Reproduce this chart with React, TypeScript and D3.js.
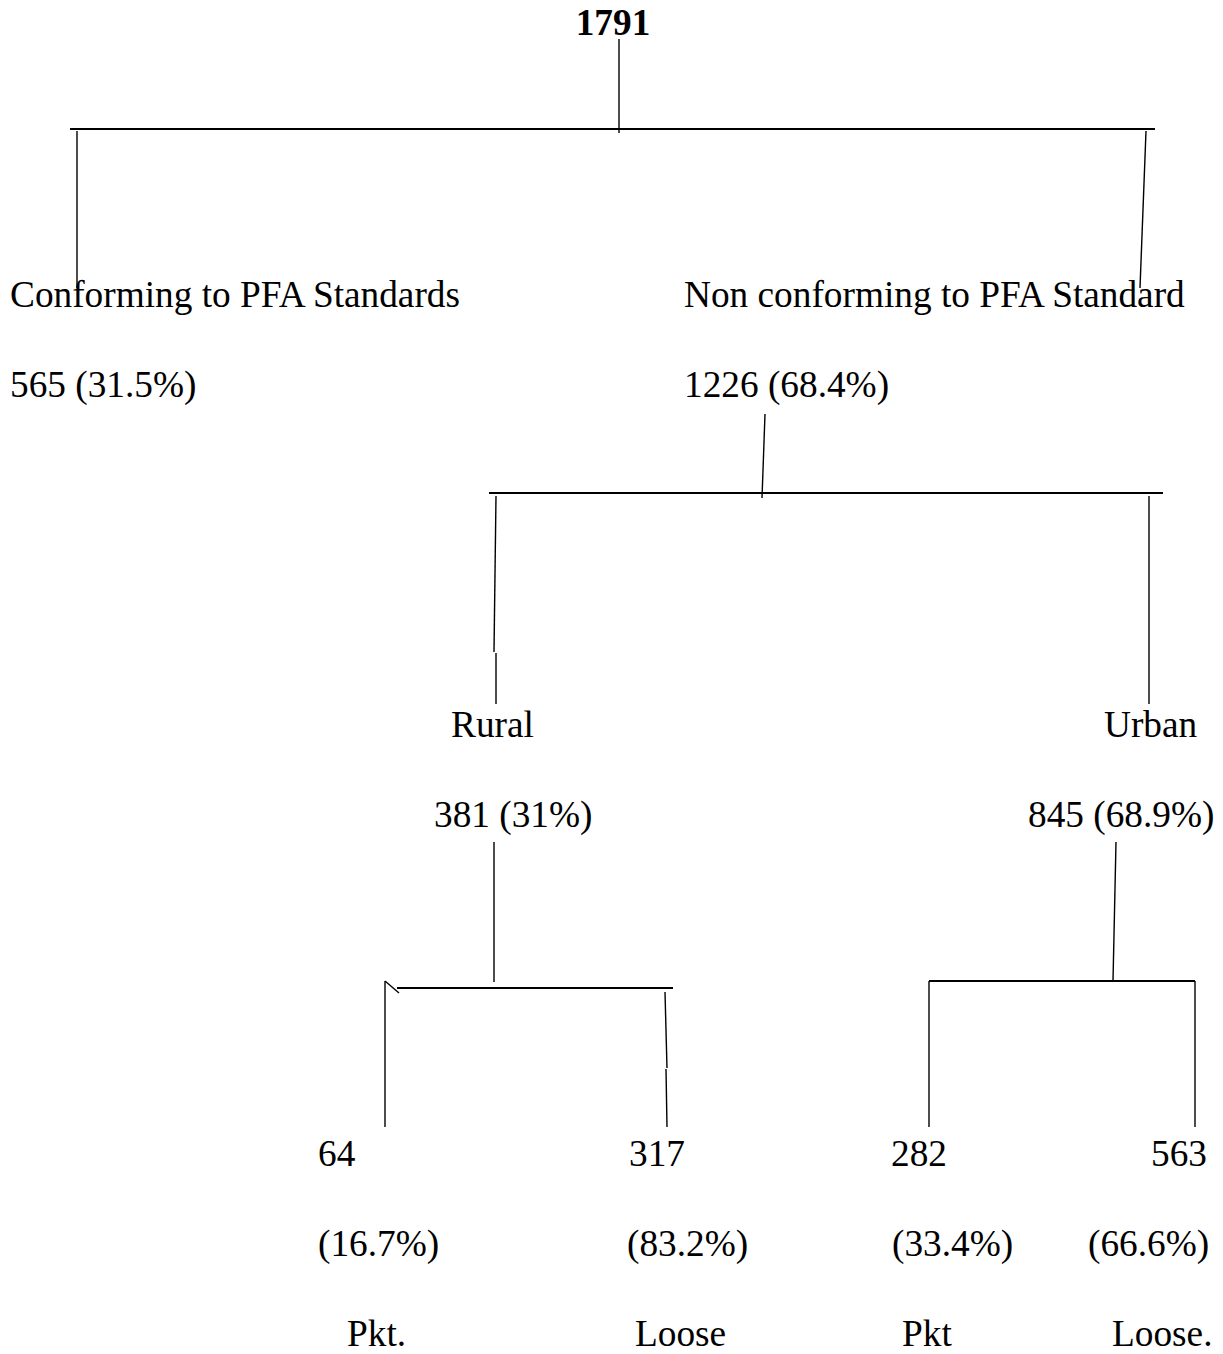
import React, { useEffect, useRef } from 'react';
import * as d3 from 'd3';

// sample tree: ids, parents, texts and values
const nodeIds = ['root', 'conf', 'nonconf', 'rural', 'urban', 'ruralPkt', 'ruralLoose', 'urbanPkt', 'urbanLoose'];
const parentIds = ['', 'root', 'root', 'nonconf', 'nonconf', 'rural', 'rural', 'urban', 'urban'];
const nodeLabels = ['', 'Conforming to PFA Standards', 'Non conforming to PFA Standard', 'Rural', 'Urban', 'Pkt.', 'Loose', 'Pkt', 'Loose.'];
const nodeCounts = [1791, 565, 1226, 381, 845, 64, 317, 282, 563];
const nodePercents = ['', '31.5%', '68.4%', '31%', '68.9%', '16.7%', '83.2%', '33.4%', '66.6%'];

// layout (left edge of each text line)
const textPos: Record<string, { label: number; count: number; pct?: number }> = {
  root: { label: 613, count: 613 },
  conf: { label: 10, count: 10 },
  nonconf: { label: 684, count: 684 },
  rural: { label: 451, count: 434 },
  urban: { label: 1104, count: 1028 },
  ruralPkt: { label: 347, count: 318, pct: 318 },
  ruralLoose: { label: 635, count: 629, pct: 627 },
  urbanPkt: { label: 902, count: 891, pct: 892 },
  urbanLoose: { label: 1112, count: 1151, pct: 1088 },
};

// hand drawn connectors under each parent
type Pt = [number, number];
const brackets: Record<string, { stem: Pt[]; bar: [Pt, Pt]; extra?: Pt[]; drops: Pt[][] }> = {
  root: {
    stem: [[619, 39], [619, 133]],
    bar: [[70, 129], [1155, 129]],
    drops: [[[77, 131], [77, 288]], [[1146, 131], [1140, 288]]],
  },
  nonconf: {
    stem: [[765, 414], [762, 498]],
    bar: [[489, 493], [1163, 493]],
    drops: [[[496, 496], [494, 652]], [[496, 653], [496, 704]], [[1149, 496], [1149, 704]]],
  },
  rural: {
    stem: [[494, 842], [494, 982]],
    bar: [[397, 988], [673, 988]],
    extra: [[385, 981], [399, 993]],
    drops: [[[385, 981], [385, 1127]], [[665, 992], [667, 1068]], [[666, 1069], [667, 1127]]],
  },
  urban: {
    stem: [[1116, 842], [1113, 981]],
    bar: [[929, 981], [1195, 981]],
    drops: [[[929, 981], [929, 1127]], [[1195, 981], [1195, 1127]]],
  },
};

export default function App() {
  const ref = useRef<SVGSVGElement>(null);

  useEffect(() => {
    const width = 1223;
    const height = 1354;
    const font = '"Liberation Serif", "Times New Roman", serif';
    const fontSize = 37.3;
    const lineGap = 90;

    const rows = nodeIds.map((id, i) => ({
      id,
      parent: parentIds[i] || null,
      label: nodeLabels[i],
      count: nodeCounts[i],
      pct: nodePercents[i],
    }));

    const root = d3.stratify<any>()
      .id(d => d.id)
      .parentId(d => d.parent)(rows);

    const maxDepth = root.height;

    // baseline of the first text line for each depth
    const yScale = d3.scaleLinear().domain([1, 3]).range([307, 1166]);

    const svg = d3.select(ref.current);
    svg.selectAll('*').remove();
    svg.attr('width', width).attr('height', height);

    svg.append('rect').attr('width', width).attr('height', height).attr('fill', '#fff');

    const line = d3.line();
    const links = svg.append('g').attr('fill', 'none').attr('stroke', '#000');

    root.descendants().filter(n => n.children).forEach(n => {
      const b = brackets[n.id as string];
      links.append('path').attr('d', line(b.stem)).attr('stroke-width', 1.4);
      links.append('path').attr('d', line(b.bar)).attr('stroke-width', 2.2);
      if (b.extra) links.append('path').attr('d', line(b.extra)).attr('stroke-width', 1.4);
      b.drops.forEach(seg => {
        links.append('path').attr('d', line(seg)).attr('stroke-width', 1.4);
      });
    });

    const texts = svg.append('g')
      .attr('font-family', font)
      .attr('font-size', fontSize)
      .attr('fill', '#000');

    root.descendants().forEach(n => {
      const d = n.data;
      const p = textPos[d.id];
      if (n.depth === 0) {
        texts.append('text')
          .attr('x', p.label)
          .attr('y', 35)
          .attr('text-anchor', 'middle')
          .attr('font-weight', 'bold')
          .text(d.count);
        return;
      }
      const y0 = yScale(n.depth);
      if (n.depth < maxDepth) {
        texts.append('text').attr('x', p.label).attr('y', y0).text(d.label);
        texts.append('text').attr('x', p.count).attr('y', y0 + lineGap).text(`${d.count} (${d.pct})`);
      } else {
        texts.append('text').attr('x', p.count).attr('y', y0).text(d.count);
        texts.append('text').attr('x', p.pct).attr('y', y0 + lineGap).text(`(${d.pct})`);
        texts.append('text').attr('x', p.label).attr('y', y0 + lineGap * 2).text(d.label);
      }
    });
  }, []);

  return <svg ref={ref} style={{ position: 'absolute', left: 0, top: 0, display: 'block' }} />;
}
